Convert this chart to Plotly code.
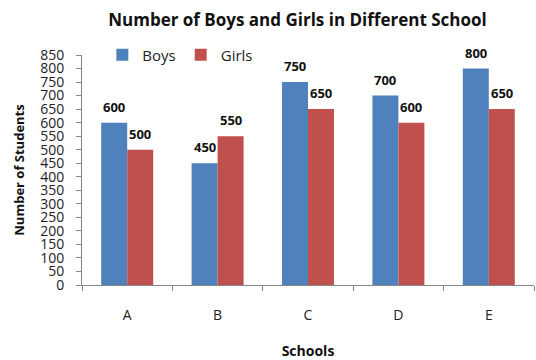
import plotly.graph_objects as go

schools = ["A", "B", "C", "D", "E"]
boys = [600, 450, 750, 700, 800]
girls = [500, 550, 650, 600, 650]
y_ticks = list(range(0, 851, 50))

BLUE = "#4F81BD"
RED = "#C0504D"
AXIS = "#868686"
FONT = "Open Sans"

fig = go.Figure()
fig.add_trace(go.Bar(name="Boys", x=schools, y=boys, marker=dict(color=BLUE, line=dict(width=0))))
fig.add_trace(go.Bar(name="Girls", x=schools, y=girls, marker=dict(color=RED, line=dict(width=0))))

# value labels sit a little above each bar
for i, s in enumerate(schools):
    for series, off in ((boys, -0.144), (girls, 0.144)):
        fig.add_annotation(
            x=i + off, y=series[i], xref="x", yref="y", text=str(series[i]),
            showarrow=False, yshift=16,
            font=dict(family=FONT, size=13, color="#111111", weight="bold"),
        )

fig.update_layout(
    width=536, height=360,
    margin=dict(l=82, r=2, t=55, b=75),
    paper_bgcolor="white", plot_bgcolor="white",
    barmode="group", bargap=0.425, bargroupgap=0,
    title=dict(text="<b>Number of Boys and Girls in Different School</b>",
               x=0.555, xanchor="center", y=0.945, yanchor="middle",
               font=dict(family=FONT, size=17, color="#111111")),
    legend=dict(orientation="h", x=0.045, y=1.0, xanchor="left", yanchor="middle",
                font=dict(family=FONT, size=15, color="#222222"),
                bgcolor="rgba(0,0,0,0)", itemwidth=30, tracegroupgap=0),
    showlegend=True,
    font=dict(family=FONT),
)
fig.update_xaxes(
    type="category", showline=True, linecolor=AXIS, linewidth=1,
    ticks="outside", tickson="boundaries", ticklen=5, tickcolor=AXIS,
    tickfont=dict(family=FONT, size=14, color="#222222"), ticklabelstandoff=17,
    title=dict(text="<b>Schools</b>", font=dict(family=FONT, size=14, color="#111111"), standoff=24),
    showgrid=False, zeroline=False,
)
fig.update_yaxes(
    range=[0, 850], tickvals=y_ticks, ticktext=[str(v) for v in y_ticks],
    showline=True, linecolor=AXIS, linewidth=1,
    ticks="outside", ticklen=5, tickcolor=AXIS,
    tickfont=dict(family=FONT, size=14, color="#222222"), ticklabelstandoff=9,
    title=dict(text="<b>Number of Students</b>", font=dict(family=FONT, size=13, color="#111111"), standoff=12),
    showgrid=False, zeroline=False,
)

fig.write_html("out.html")
